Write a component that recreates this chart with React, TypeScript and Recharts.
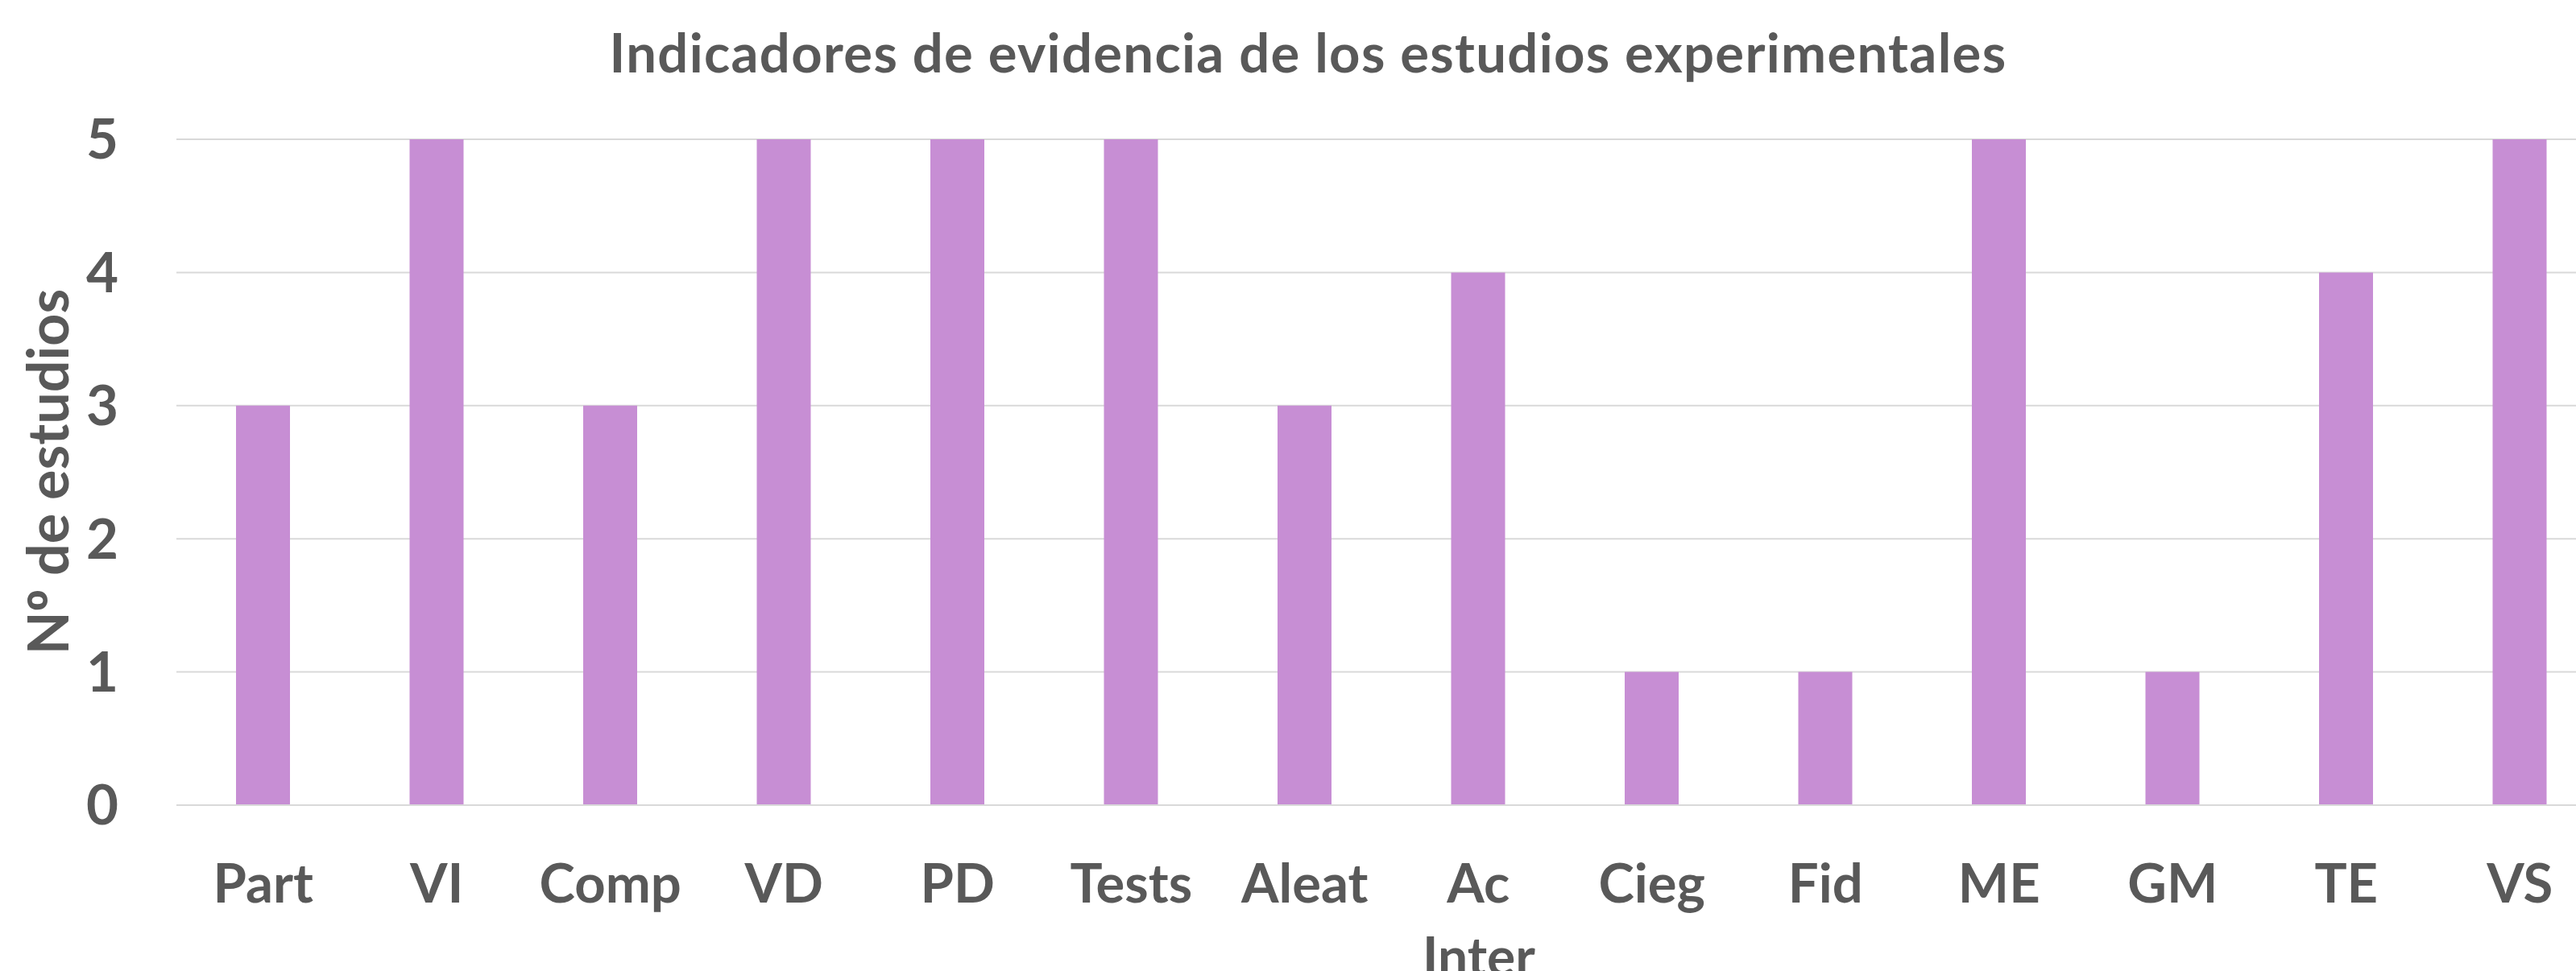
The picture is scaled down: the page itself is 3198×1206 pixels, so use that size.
import React from "react";
import { BarChart, Bar, XAxis, YAxis, CartesianGrid } from "recharts";

const categories = ["Part", "VI", "Comp", "VD", "PD", "Tests", "Aleat", "Ac", "Cieg", "Fid", "ME", "GM", "TE", "VS"];
const studies = [3, 5, 3, 5, 5, 5, 3, 4, 1, 1, 5, 1, 4, 5];
const yTicks = [0, 1, 2, 3, 4, 5];

const title = "Indicadores de evidencia de los estudios experimentales";
const yTitleA = "N";
const yTitleB = "º";
const yTitleC = " de estudios";
const xTitle = "Inter";

const data = categories.map((c, i) => ({ name: c, value: studies[i] }));

const FONT = "Lato, 'Open Sans', sans-serif";
const TEXT = "#595959";

export default function App() {
  return (
    <div style={{ position: "fixed", left: 0, top: 0, width: 3198, height: 1206, overflow: "hidden", background: "#fff" }}>
      <BarChart
        width={3236}
        height={1206}
        data={data}
        margin={{ top: 173, right: 0, bottom: 0, left: 0 }}
        barSize={67}
      >
        <CartesianGrid vertical={false} stroke="#D9D9D9" strokeWidth={2} />
        <XAxis
          dataKey="name"
          height={206}
          axisLine={{ stroke: "#D9D9D9", strokeWidth: 2 }}
          tickLine={false}
          tickMargin={67}
          interval={0}
          tick={{ fill: TEXT, fontSize: 67, fontWeight: 700, fontFamily: FONT }}
        />
        <YAxis
          width={219}
          domain={[0, 5]}
          ticks={yTicks}
          axisLine={false}
          tickLine={false}
          tickMargin={66}
          tick={{ fill: TEXT, fontSize: 69, fontWeight: 700, fontFamily: FONT }}
        />
        <Bar dataKey="value" fill="#C78ED4" isAnimationActive={false} />
      </BarChart>
      <svg width={3198} height={1206} style={{ position: "absolute", left: 0, top: 0, pointerEvents: "none" }}>
        <text x={1624} y={90} textAnchor="middle" fill={TEXT} fontSize={67} fontWeight={700} fontFamily={FONT} letterSpacing={1.3}>
          {title}
        </text>
        <text
          x={85}
          y={586}
          textAnchor="middle"
          transform="rotate(-90, 85, 586)"
          fill={TEXT}
          fontSize={70}
          fontWeight={700}
          fontFamily={FONT}
        >
          {yTitleA}
          <tspan fontFamily="'Open Sans', sans-serif">{yTitleB}</tspan>
          {yTitleC}
        </text>
        <text x={1836} y={1212} textAnchor="middle" fill={TEXT} fontSize={66} fontWeight={700} fontFamily={FONT}>
          {xTitle}
        </text>
      </svg>
    </div>
  );
}
